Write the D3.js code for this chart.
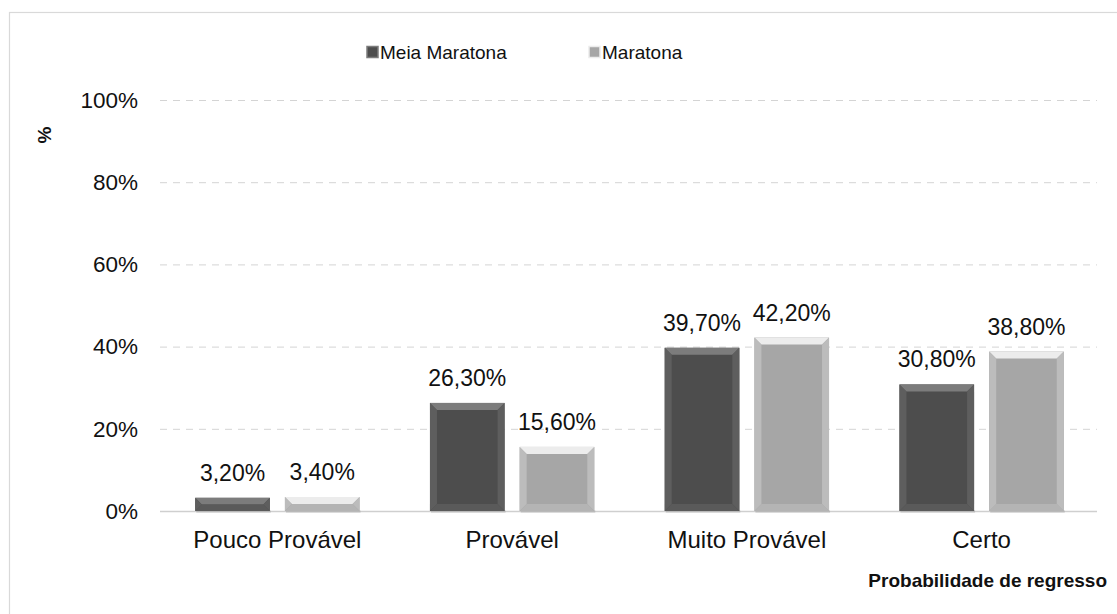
<!DOCTYPE html>
<html>
<head>
<meta charset="utf-8">
<script src="https://cdn.jsdelivr.net/npm/d3@7"></script>
<style>
  html, body { margin: 0; padding: 0; background: #fff; }
  svg { display: block; font-family: "Liberation Sans", Arial, sans-serif; }
</style>
</head>
<body>
<svg id="chart" width="1117" height="614"></svg>
<script>
// ── Dados ──
const categories = ["Pouco Provável", "Provável", "Muito Provável", "Certo"];
const series = ["Meia Maratona", "Maratona"];
const meiaMaratona = [3.2, 26.3, 39.7, 30.8];
const maratona = [3.4, 15.6, 42.2, 38.8];
const yTicks = [0, 20, 40, 60, 80, 100];

const values = [meiaMaratona, maratona];
const colors = [
  { base: "#4d4d4d", top: "#7c7c7c", side: "#5e5e5e", bottom: "#5a5a5a" },
  { base: "#a6a6a6", top: "#ececec", side: "#bcbcbc", bottom: "#b4b4b4" }
];

const fmt = v => v.toFixed(2).replace(".", ",") + "%";

const svg = d3.select("#chart");
const W = 1117, H = 614;
const plot = { left: 160, right: 1099, top: 100, bottom: 511 };

// moldura
svg.append("rect")
  .attr("x", 9.5).attr("y", 12.5)
  .attr("width", W + 10).attr("height", H + 10)
  .attr("fill", "#fff").attr("stroke", "#d9d9d9").attr("stroke-width", 1.2);

const x = d3.scaleBand().domain(categories)
  .range([plot.left, plot.right]).paddingInner(0.3).paddingOuter(0.15);
const xs = d3.scaleBand().domain(series)
  .range([0, x.bandwidth()]).paddingInner(0.168);
const y = d3.scaleLinear().domain([0, 100]).range([plot.bottom, plot.top]);

// ── Grade ──
svg.append("g").selectAll("line")
  .data(yTicks.filter(t => t > 0)).join("line")
  .attr("x1", plot.left).attr("x2", plot.right - 2)
  .attr("y1", d => y(d) + 0.5).attr("y2", d => y(d) + 0.5)
  .attr("stroke", "#d4d4d4").attr("stroke-width", 1)
  .attr("stroke-dasharray", "7,6");

svg.append("line")
  .attr("x1", plot.left).attr("x2", plot.right - 2)
  .attr("y1", y(0) + 0.5).attr("y2", y(0) + 0.5)
  .attr("stroke", "#cfcfcf").attr("stroke-width", 1.5);

// ── Eixo Y ──
svg.append("g").selectAll("text")
  .data(yTicks).join("text")
  .attr("x", 138).attr("y", d => y(d))
  .attr("dy", "0.35em").attr("text-anchor", "end")
  .attr("font-size", 22.5).attr("fill", "#111")
  .text(d => d + "%");

svg.append("text")
  .attr("transform", "translate(51,135) rotate(-90)")
  .attr("text-anchor", "middle")
  .attr("font-size", 19).attr("font-weight", "bold").attr("fill", "#111")
  .text("%");

// ── Eixo X ──
svg.append("g").selectAll("text")
  .data(categories).join("text")
  .attr("x", d => x(d) + x.bandwidth() / 2).attr("y", 548)
  .attr("text-anchor", "middle")
  .attr("font-size", 24).attr("fill", "#111")
  .text(d => d);

svg.append("text")
  .attr("x", 1107).attr("y", 587)
  .attr("text-anchor", "end")
  .attr("font-size", 19).attr("font-weight", "bold").attr("fill", "#111")
  .text("Probabilidade de regresso");

// ── Barras com bisel ──
const bars = [];
categories.forEach((c, i) => {
  series.forEach((s, j) => {
    bars.push({ cat: c, s, j, v: values[j][i] });
  });
});

const barG = svg.append("g").selectAll("g")
  .data(bars).join("g")
  .attr("transform", d => `translate(${x(d.cat) + xs(d.s)},${y(d.v)})`);

const bw = xs.bandwidth();
const bev = d => Math.min(7, (y(0) - y(d.v)) / 2);
const hgt = d => y(0) - y(d.v);

// sombra
barG.append("rect")
  .attr("x", 1).attr("y", d => hgt(d) - 1)
  .attr("width", bw).attr("height", 3)
  .attr("fill", "#000").attr("fill-opacity", 0.1);

barG.append("rect")
  .attr("width", bw).attr("height", hgt)
  .attr("fill", d => colors[d.j].base);

// topo
barG.append("path")
  .attr("d", d => { const b = bev(d); return `M0,0 L${bw},0 L${bw - b},${b} L${b},${b} Z`; })
  .attr("fill", d => colors[d.j].top);
// lados
barG.append("path")
  .attr("d", d => { const b = bev(d), h = hgt(d); return `M0,0 L${b},${b} L${b},${h - b} L0,${h} Z`; })
  .attr("fill", d => colors[d.j].side);
barG.append("path")
  .attr("d", d => { const b = bev(d), h = hgt(d); return `M${bw},0 L${bw - b},${b} L${bw - b},${h - b} L${bw},${h} Z`; })
  .attr("fill", d => colors[d.j].side);
// base
barG.append("path")
  .attr("d", d => { const b = bev(d), h = hgt(d); return `M0,${h} L${b},${h - b} L${bw - b},${h - b} L${bw},${h} Z`; })
  .attr("fill", d => colors[d.j].bottom);

// rótulos
barG.append("text")
  .attr("x", bw / 2).attr("y", -17)
  .attr("text-anchor", "middle")
  .attr("font-size", 23).attr("fill", "#111")
  .text(d => fmt(d.v));

// ── Legenda ──
const legendX = [367, 589];
const leg = svg.append("g").selectAll("g")
  .data(series).join("g")
  .attr("transform", (d, i) => `translate(${legendX[i]},52)`);

leg.append("rect")
  .attr("x", 0).attr("y", -5.5).attr("width", 11).attr("height", 11)
  .attr("fill", (d, i) => colors[i].base)
  .attr("stroke", (d, i) => colors[i].top).attr("stroke-width", 1.5);

leg.append("text")
  .attr("x", 13).attr("dy", "0.35em")
  .attr("font-size", 19).attr("fill", "#111")
  .text(d => d);
</script>
</body>
</html>
